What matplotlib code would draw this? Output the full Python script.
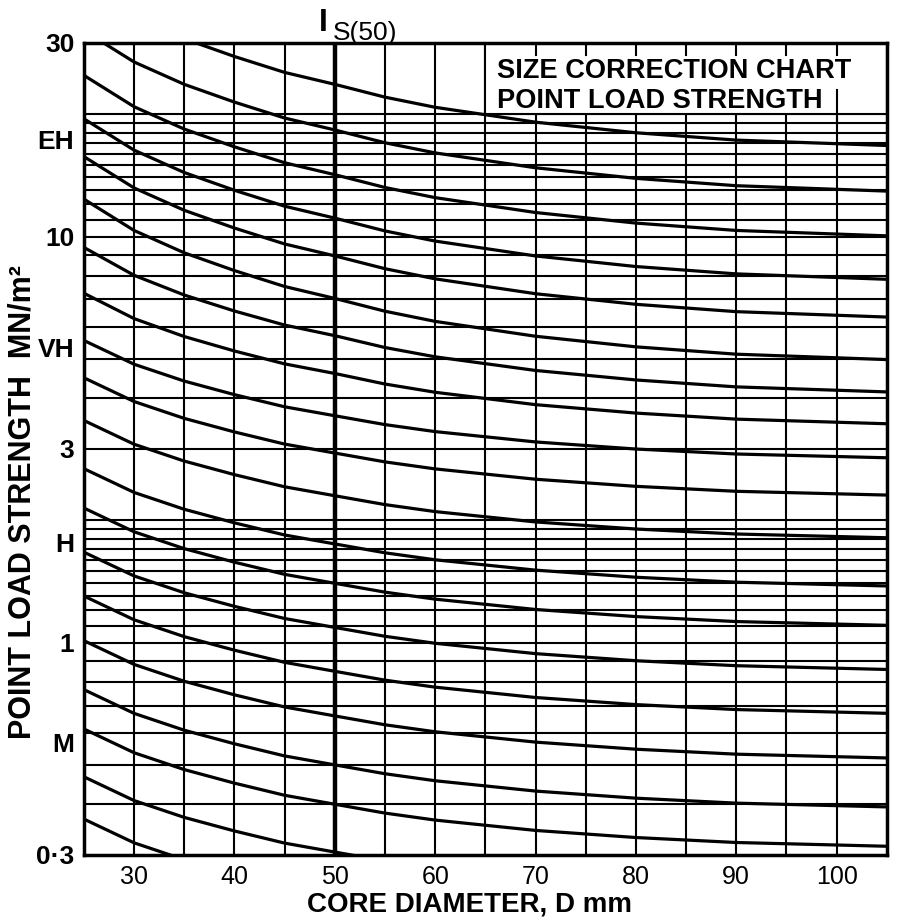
import numpy as np
import matplotlib
matplotlib.use("Agg")
from matplotlib import pyplot as plt
from matplotlib.patches import Rectangle

plt.rcParams['font.family'] = ['Liberation Sans', 'DejaVu Sans']

diameter_mm = [25, 30, 35, 40, 45, 50, 55, 60, 70, 80, 90, 105]

# Is / Is(50) along the curves -- the stronger rocks get steeper curves
factor_weak = [1.532, 1.339, 1.217, 1.127, 1.052, 1.0,
               0.951, 0.914, 0.862, 0.828, 0.805, 0.788]
factor_46 = [1.576, 1.365, 1.233, 1.136, 1.056, 1.0,
             0.942, 0.899, 0.838, 0.799, 0.772, 0.752]
factor_57 = [1.649, 1.408, 1.259, 1.150, 1.062, 1.0,
             0.935, 0.887, 0.821, 0.778, 0.748, 0.727]
factor_strong = [1.756, 1.470, 1.295, 1.171, 1.070, 1.0,
                 0.930, 0.878, 0.807, 0.760, 0.729, 0.707]

# Is(50) where each curve crosses the D = 50 mm line
is50_weak = [0.24, 0.305, 0.40, 0.50, 0.66, 0.85, 1.09, 1.40, 1.75, 2.30, 2.93, 3.62]
is50_46 = [4.6]
is50_57 = [5.7]
is50_strong = [7.04, 8.96, 11.1, 14.2, 18.3, 23.7]

grid_strengths = [0.4, 0.5, 0.6, 0.7, 0.8, 0.9,
                  1.0, 1.1, 1.2, 1.3, 1.4, 1.5, 1.6, 1.7, 1.8, 1.9, 2.0,
                  3, 4, 5, 6, 7, 8, 9,
                  10, 11, 12, 13, 14, 15, 16, 17, 18, 19, 20]
grid_diameters = [30, 35, 40, 45, 55, 60, 65, 70, 75, 80, 85, 90, 95, 100]

x_ticks = [30, 40, 50, 60, 70, 80, 90, 100]
y_ticks = [0.3, 0.567, 1, 1.76, 3, 5.33, 10, 17.3, 30]
y_tick_labels = ['0·3', 'M', '1', 'H', '3', 'VH', '10', 'EH', '30']


def draw_curves(ax, is50_list, factor):
    factor = np.array(factor)
    for v in is50_list:
        ax.plot(diameter_mm, v * factor, color='k', lw=2.3, zorder=2,
                solid_capstyle='butt', solid_joinstyle='round')


def draw_chart():
    fig = plt.figure(figsize=(8.98, 9.24), dpi=100)
    ax = fig.add_axes([0.0935, 0.0747, 0.894, 0.879])
    ax.set_yscale('log')
    ax.set_xlim(25, 105)
    ax.set_ylim(0.3, 30)

    for v in grid_strengths:
        ax.axhline(v, color='k', lw=1.5, zorder=1)
    for d in grid_diameters:
        ax.axvline(d, color='k', lw=1.5, zorder=1)
    ax.axvline(50, color='k', lw=3.2, zorder=1)

    draw_curves(ax, is50_weak, factor_weak)
    draw_curves(ax, is50_46, factor_46)
    draw_curves(ax, is50_57, factor_57)
    draw_curves(ax, is50_strong, factor_strong)

    # title box in the top right corner
    box = Rectangle((65, 20), 40, 10, facecolor='white', edgecolor='k',
                    lw=1.5, zorder=3)
    ax.add_patch(box)
    for d in [70, 75, 80, 85, 90, 95, 100]:
        ax.axvline(d, ymin=0.985, ymax=1, color='k', lw=1.5, zorder=4)
    ax.axvline(100, ymin=0.90, ymax=0.942, color='k', lw=1.5, zorder=4)
    ax.text(66.2, 25.6, 'SIZE CORRECTION CHART', fontsize=19.6,
            fontweight='bold', va='center', ha='left', zorder=5)
    ax.text(66.2, 21.6, 'POINT LOAD STRENGTH', fontsize=19.6,
            fontweight='bold', va='center', ha='left', zorder=5)

    ax.text(48.9, 30.9, 'I', fontsize=23, fontweight='bold', va='bottom',
            ha='center', clip_on=False)
    ax.text(49.8, 29.6, 'S(50)', fontsize=19, va='bottom', ha='left',
            clip_on=False)

    ax.set_xticks(x_ticks)
    ax.set_xticklabels([str(t) for t in x_ticks], fontsize=18)
    ax.set_yticks(y_ticks)
    ax.set_yticklabels(y_tick_labels, fontsize=19, fontweight='bold')
    ax.yaxis.set_minor_locator(matplotlib.ticker.NullLocator())
    ax.tick_params(axis='both', length=0, pad=7)

    for s in ax.spines.values():
        s.set_linewidth(2.5)
        s.set_zorder(6)

    fig.text(0.523, 0.021, 'CORE DIAMETER, D mm', fontsize=20,
             fontweight='bold', ha='center', va='center')
    fig.text(0.025, 0.457, 'POINT LOAD STRENGTH  MN/m²', fontsize=22,
             fontweight='bold', ha='center', va='center', rotation=90)

    fig.savefig('out.png', dpi=100)


if __name__ == '__main__':
    draw_chart()
